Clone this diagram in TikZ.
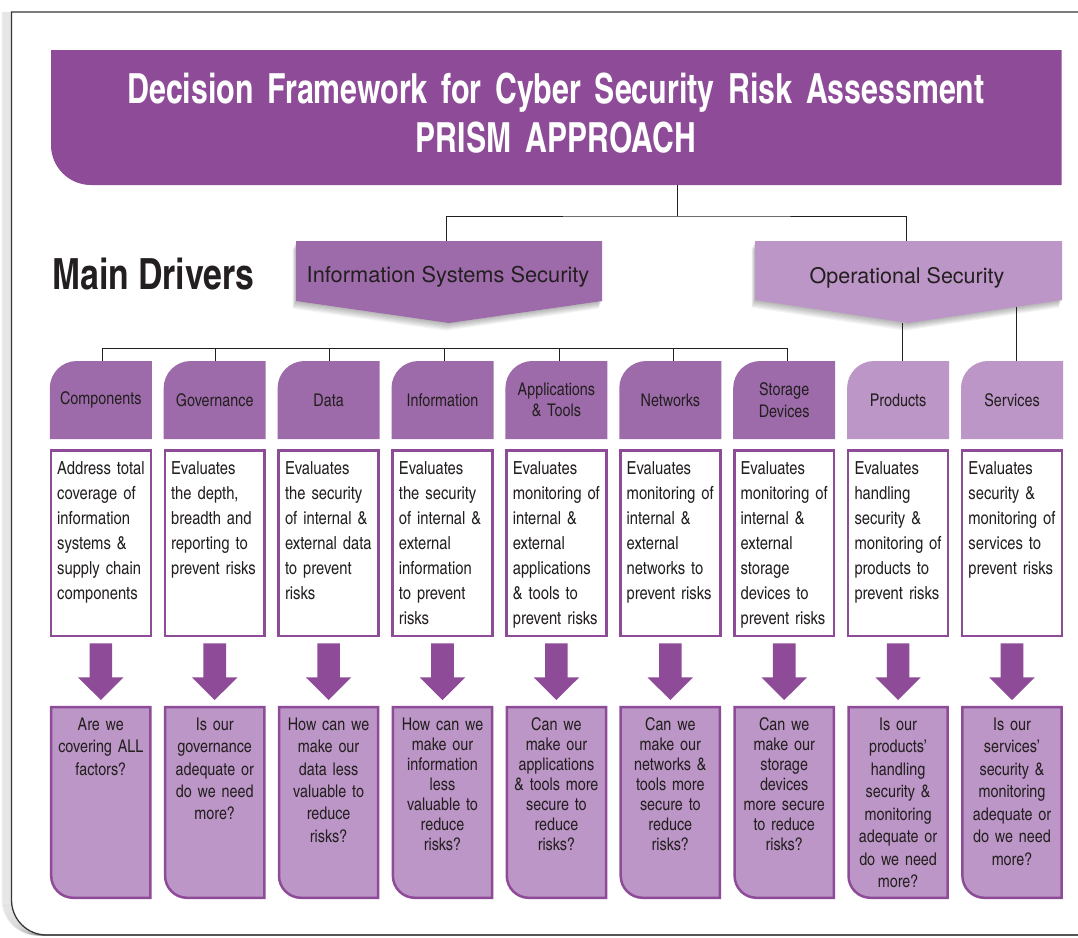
\documentclass[tikz,border=0pt]{standalone}
\usepackage{fontspec}
\newfontfamily\hcn{texgyreheroscn}[Extension=.otf,UprightFont=*-regular,BoldFont=*-bold]
\newfontfamily\hcntitle{texgyreheroscn}[Extension=.otf,UprightFont=*-bold,FakeStretch=0.89]
\newfontfamily\hcnmd{texgyreheroscn}[Extension=.otf,UprightFont=*-bold,FakeStretch=0.957]
\newfontfamily\hel{TeX Gyre Heros}
\usetikzlibrary{calc}
\definecolor{pdark}{HTML}{8E4C98}
\definecolor{pmid}{HTML}{9E6BAA}
\definecolor{plight}{HTML}{BC96C6}
\definecolor{ink}{HTML}{231F20}
\newcommand\pentpath[5]{(#1,-#3) -- (#2,-#3) -- (#2,-#4) -- ({(#1+#2)/2},-#5) -- (#1,-#4) -- cycle}
\newcommand\col[7]{%
 \fill[#3] ({#2-51},-439) -- ({#2-51},-388) arc[start angle=180,end angle=90,radius=27pt] -- ({#2+51},-361) -- ({#2+51},-439) -- cycle;
 \node[hdrtxt] (h#1) at (#2,-400) {#4};
 \node[descbox] (d#1) at (#2,-543) {};
 \node[dtxt] (dt#1) at ({#2-43.8},-459) {\rule{0pt}{15pt}#5};
 \node[qbox] (qb#1) at (#2,-802.5) {};
 \filldraw[fill=plight, draw=pdark, line width=2.5pt] (qb#1.north west) -- ($(qb#1.south west)+(0,22)$) arc[start angle=180,end angle=270,radius=22pt] -- (qb#1.south east) -- (qb#1.north east) -- cycle;
 \node[qtxt, font=\hcn\fontsize{17.5}{#7}\selectfont] (q#1) at (#2,-715) {\rule{0pt}{15pt}#6};
 \fill[pdark] ($(d#1.south)+(-11.3,-7.5)$) -- ($(d#1.south)+(11.3,-7.5)$) -- ($(qb#1.north)+(11.3,29.9)$) -- ($(qb#1.north)+(22.8,29.9)$) -- ($(qb#1.north)+(0,7.2)$) -- ($(qb#1.north)+(-22.8,29.9)$) -- ($(qb#1.north)+(-11.3,29.9)$) -- cycle;
}
\begin{document}
\begin{tikzpicture}[x=1pt,y=1pt,
  conn/.style={draw=ink, line width=1pt},
  hdrtxt/.style={minimum width=102pt, minimum height=78pt, inner xsep=5pt, inner ysep=0pt, outer sep=0pt, text width=92pt, align=center, text=ink, font=\hcn\fontsize{17.5}{21.5}\selectfont},
  descbox/.style={draw=pdark, fill=white, line width=2.5pt, minimum width=99.9pt, minimum height=185.5pt, inner sep=0pt, outer sep=0pt},
  dtxt/.style={anchor=north west, inner sep=0pt, text width=98pt, align=left, text=ink, font=\hcn\fontsize{18}{25}\selectfont},
  qbox/.style={minimum width=99.2pt, minimum height=190.6pt, inner sep=0pt, outer sep=0pt},
  qtxt/.style={anchor=north, inner sep=0pt, text width=100pt, align=center, text=ink}
]
\useasboundingbox (0,0) rectangle (1078,-937);
\fill[white] (0,0) rectangle (1078,-937);
% frame shadow and frame
\foreach \k in {1,...,9}
  \draw[black, opacity=0.06, line width=1.6pt] (11.5-\k,-12) -- (11.5-\k,-900) arc[start angle=180,end angle=270,radius=35pt] -- (1080,-935);
\draw[ink!90, line width=1.3pt] (1080,-12) -- (11.5,-12) -- (11.5,-900) arc[start angle=180,end angle=270,radius=35pt] -- (1080,-935);
% title banner
\fill[pdark] (51,-50) -- (51,-145) arc[start angle=180,end angle=270,radius=40pt] -- (1061.7,-185) -- (1061.7,-50) -- cycle;
\node[anchor=north, inner sep=0pt, text width=1040pt, align=center, text=white, font=\hcntitle\fontsize{41.5}{49}\selectfont] (title) at (556,-68.3) {\rule{0pt}{35pt}Decision Framework for Cyber Security Risk Assessment\\PRISM APPROACH};
\coordinate (titlebot) at (677,-185);
% main drivers
\node[anchor=base west, inner sep=0pt, text=ink, font=\hcnmd\fontsize{43}{50}\selectfont] (md) at (52,-289) {Main Drivers};
% ISS and OS shapes with soft shadow
\foreach \k in {1,...,7}{
  \fill[black, opacity=0.045, shift={(-0.5*\k,-1.1*\k)}] \pentpath{296}{602}{241}{301}{323};
  \fill[black, opacity=0.045, shift={(-0.5*\k,-1.1*\k)}] \pentpath{755}{1062}{241}{300}{323};
}
\fill[pmid] \pentpath{296}{602}{241}{301}{323};
\fill[plight] \pentpath{755}{1062}{241}{300}{323};
\node[anchor=base, inner sep=0pt, text=ink, font=\hel\fontsize{21.8}{26}\selectfont] (iss) at (448,-282.7) {Information Systems Security};
\node[anchor=base, inner sep=0pt, text=ink, font=\hel\fontsize{21.5}{26}\selectfont] (ops) at (907,-283) {Operational Security};
\coordinate (isstop) at (446,-241);
\coordinate (opstop) at (906.7,-241);
\coordinate (tj) at (677,-216);
\coordinate (opstip) at (905,-323);
\coordinate (opsedge) at (1016.7,-306.5);
\coordinate (bus) at (400,-348.5);
% columns
\col{1}{100.8}{pmid}{Components}{Address total\\coverage of\\information\\systems \&\\supply chain\\components}{Are we\\covering ALL\\factors?}{22.4}
\col{2}{214.7}{pmid}{Governance}{Evaluates\\the depth,\\breadth and\\reporting to\\prevent risks}{Is our\\governance\\adequate or\\do we need\\more?}{22.4}
\col{3}{328.6}{pmid}{Data}{Evaluates\\the security\\of internal \&\\external data\\to prevent\\risks}{How can we\\make our\\data less\\valuable to\\reduce\\risks?}{22.4}
\col{4}{442.5}{pmid}{Information}{Evaluates\\the security\\of internal \&\\external\\information\\to prevent\\risks}{How can we\\make our\\information\\less\\valuable to\\reduce\\risks?}{20}
\col{5}{556.4}{pmid}{Applications\\\& Tools}{Evaluates\\monitoring of\\internal \&\\external\\applications\\\& tools to\\prevent risks}{Can we\\make our\\applications\\\& tools more\\secure to\\reduce\\risks?}{20}
\col{6}{670.3}{pmid}{Networks}{Evaluates\\monitoring of\\internal \&\\external\\networks to\\prevent risks}{Can we\\make our\\networks \&\\tools more\\secure to\\reduce\\risks?}{20}
\col{7}{784.2}{pmid}{Storage\\Devices}{Evaluates\\monitoring of\\internal \&\\external\\storage\\devices to\\prevent risks}{Can we\\make our\\storage\\devices\\more secure\\to reduce\\risks?}{20}
\col{8}{898.1}{plight}{Products}{Evaluates\\handling\\security \&\\monitoring of\\products to\\prevent risks}{Is our\\products’\\handling\\security \&\\monitoring\\adequate or\\do we need\\more?}{22.5}
\col{9}{1012}{plight}{Services}{Evaluates\\security \&\\monitoring of\\services to\\prevent risks}{Is our\\services’\\security \&\\monitoring\\adequate or\\do we need\\more?}{22.5}
% connectors
\draw[conn] (titlebot) -- (tj);
\draw[conn] (isstop) |- (tj) -| (opstop);
\draw[conn] ([xshift=1.2pt]h1.north) |- (bus) -| ([xshift=2.8pt]h7.north);
\draw[conn] ([xshift=0.3pt]h2.north) -- ([xshift=0.3pt]h2.north |- bus);
\draw[conn] ([xshift=0.4pt]h3.north) -- ([xshift=0.4pt]h3.north |- bus);
\draw[conn] ([xshift=1.5pt]h4.north) -- ([xshift=1.5pt]h4.north |- bus);
\draw[conn] ([xshift=2.6pt]h5.north) -- ([xshift=2.6pt]h5.north |- bus);
\draw[conn] ([xshift=2.7pt]h6.north) -- ([xshift=2.7pt]h6.north |- bus);
\draw[conn] ([xshift=4.6pt]h8.north) -- ([xshift=4.6pt]h8.north |- opstip);
\draw[conn] ([xshift=4.7pt]h9.north) -- ([xshift=4.7pt]h9.north |- opsedge);
\end{tikzpicture}
\end{document}
